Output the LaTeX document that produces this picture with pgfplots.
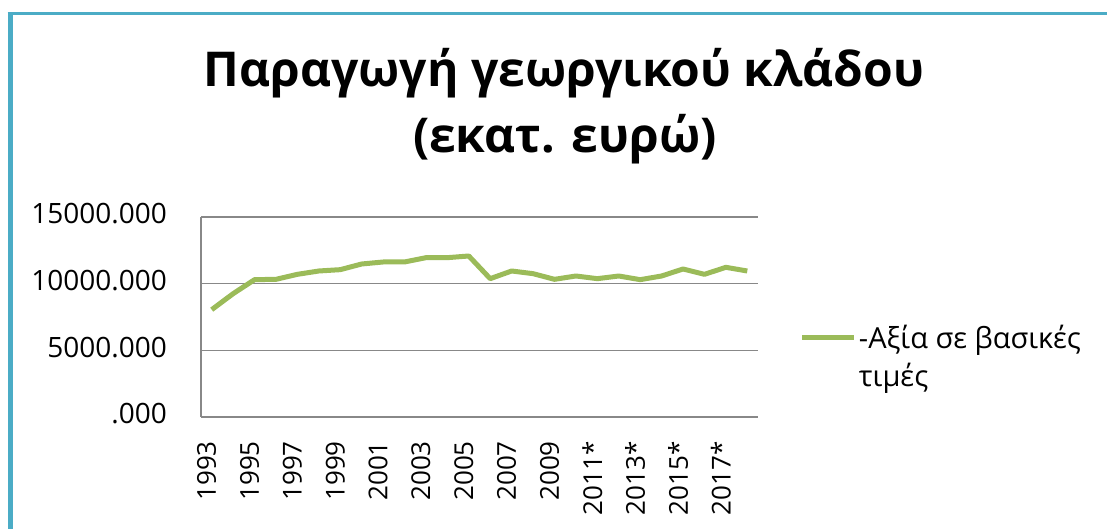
\documentclass[border=0pt]{standalone}
\usepackage{pgfplots}
\pgfplotsset{compat=1.18}
\usepackage{fontspec}
\setmainfont{Open Sans}
\definecolor{frame}{HTML}{4BACC6}
\definecolor{grn}{HTML}{9BBB59}
\definecolor{gridc}{HTML}{888888}
\pgfplotstableread{
i val
0 8050
1 9250
2 10300
3 10325
4 10700
5 10950
6 11050
7 11475
8 11625
9 11625
10 11950
11 11950
12 12075
13 10375
14 10950
15 10750
16 10325
17 10575
18 10375
19 10575
20 10300
21 10575
22 11100
23 10700
24 11225
25 10950
}\datatable
\begin{document}
\begin{tikzpicture}
\useasboundingbox (0pt,0pt) rectangle (1107pt,529pt);
\draw[frame, line width=5pt] (10pt,0pt) -- (10pt,516.7pt);
\draw[frame, line width=3pt] (7.5pt,515.2pt) -- (1107pt,515.2pt);
\node[anchor=base, inner sep=0pt, font=\fontsize{48}{58}\selectfont\bfseries] at (564pt,442pt) {Παραγωγή γεωργικού κλάδου};
\node[anchor=base, inner sep=0pt, font=\fontsize{48}{58}\selectfont\bfseries] at (565pt,376pt) {(εκατ. ευρώ)};
\begin{axis}[
  at={(201pt,112pt)}, anchor=south west,
  scale only axis, width=557pt, height=200pt,
  xmin=-0.5, xmax=25.5, ymin=0, ymax=15000,
  scaled y ticks=false,
  ytick={0,5000,10000,15000},
  yticklabels={.000,5000.000,10000.000,15000.000},
  xtick={0,2,...,24},
  xticklabels={1993,1995,1997,1999,2001,2003,2005,2007,2009,2011*,2013*,2015*,2017*},
  axis x line*=bottom, axis y line*=left,
  axis line style={gridc, line width=1.5pt, -},
  ymajorgrids, grid style={gridc, line width=1.5pt},
  major tick length=0pt, tick style={draw=none},
  x tick label style={font=\fontsize{26}{26}\selectfont, inner sep=0pt, anchor=east, xshift=-5pt, yshift=-24pt, rotate=90},
  y tick label style={font=\fontsize{28}{28}\selectfont, inner sep=0pt, anchor=east, xshift=-34pt, yshift=3pt},
  legend style={at={(1.075,0.30)}, anchor=west, draw=none, fill=none, inner sep=0pt,
    font=\fontsize{29}{38}\selectfont, cells={anchor=west, align=left}},
  legend image code/.code={\draw[#1, line width=5pt] (0pt,19pt) -- (52pt,19pt);},
  clip=false,
]
\addplot[grn, line width=5pt, line join=round] table[x=i, y=val] {\datatable};
\addlegendentry{-Αξία σε βασικές\\τιμές}
\end{axis}
\end{tikzpicture}
\end{document}
